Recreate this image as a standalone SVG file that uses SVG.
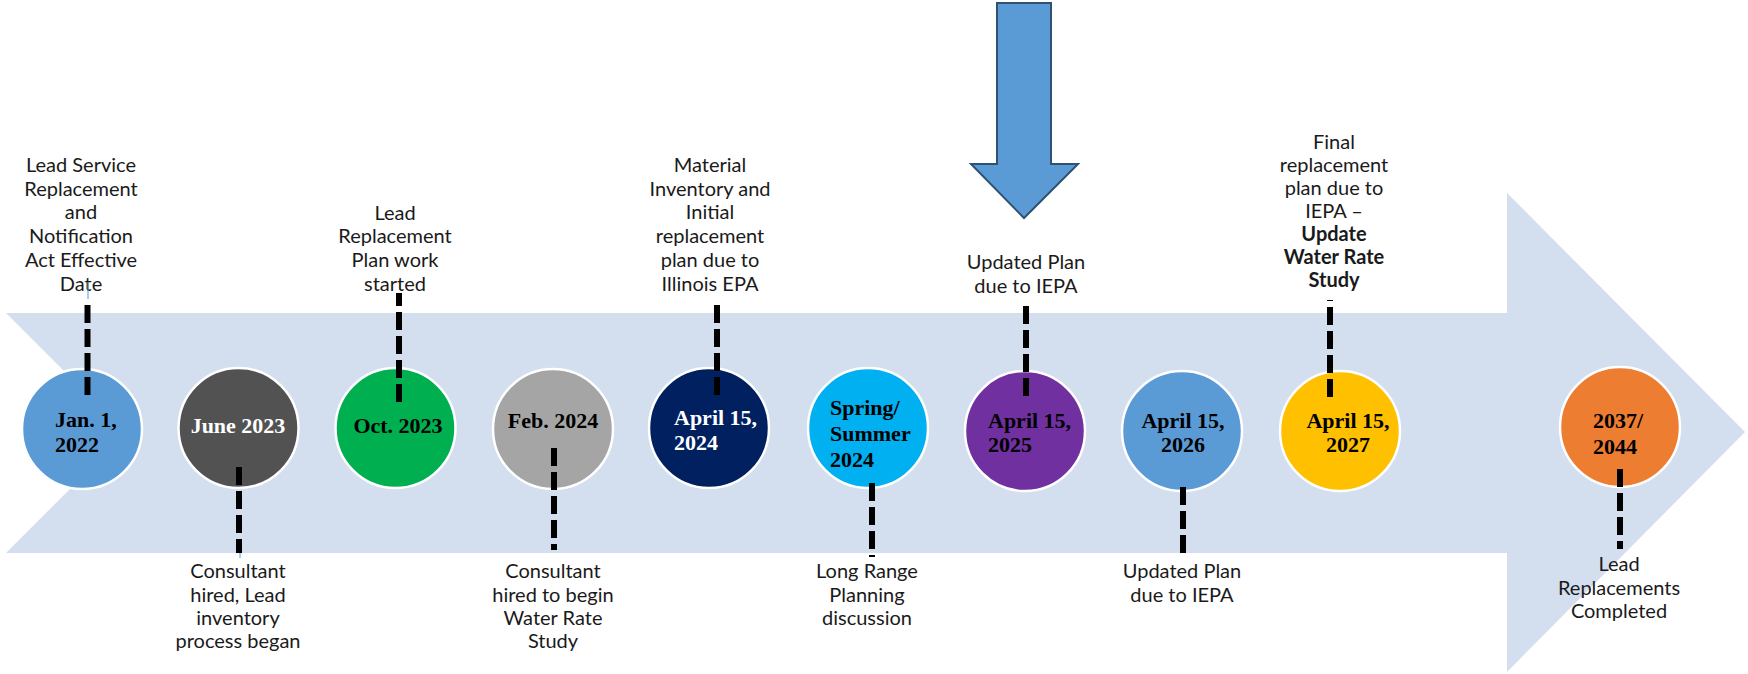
<svg xmlns="http://www.w3.org/2000/svg" width="1748" height="674" viewBox="0 0 1748 674">
<style>
.lbl{font-family:Lato,"Open Sans","Liberation Sans",sans-serif;font-size:20px;fill:#1a1a1a;text-anchor:middle}
.b{font-weight:bold}
.dt{font-family:"Liberation Serif","DejaVu Serif",serif;font-size:22px;font-weight:bold}
.c{text-anchor:middle}
.node circle{stroke:#ffffff;stroke-width:2.5}
.dash{stroke:#000;stroke-width:6;stroke-dasharray:18 6;fill:none}
.thin{stroke:#5B9BD5;stroke-width:1;fill:none}
</style>
<rect width="1748" height="674" fill="#ffffff"/>
<g id="band">
<polygon points="6,313 1507,313 1507,193 1745,432 1507,672 1507,553 6,553 126,433" fill="#D3DEEF"/>
</g>
<g id="down-arrow">
<polygon points="997,3 1051,3 1051,164 1078,164 1024,218 971,164 997,164" fill="#5B9BD5" stroke="#2F5273" stroke-width="2"/>
</g>
<g id="node-jan2022" class="node">
<circle cx="82" cy="429" r="60" fill="#5B9BD5"/>
<text class="dt" fill="#000"><tspan x="55" y="427">Jan. 1,</tspan><tspan x="55" y="452">2022</tspan></text>
<text class="lbl"><tspan x="81" y="172">Lead Service</tspan><tspan x="81" y="196">Replacement</tspan><tspan x="81" y="219">and</tspan><tspan x="81" y="243">Notification</tspan><tspan x="81" y="267">Act Effective</tspan><tspan x="81" y="291">Date</tspan></text>
</g>
<g id="node-jun2023" class="node">
<circle cx="238.5" cy="428" r="60" fill="#525252"/>
<text class="dt c" fill="#fff" x="238" y="433">June 2023</text>
<text class="lbl"><tspan x="238" y="578">Consultant</tspan><tspan x="238" y="602">hired, Lead</tspan><tspan x="238" y="625">inventory</tspan><tspan x="238" y="648">process began</tspan></text>
</g>
<g id="node-oct2023" class="node">
<circle cx="395.5" cy="428" r="60" fill="#00B050"/>
<text class="dt c" fill="#000" x="398" y="433">Oct. 2023</text>
<text class="lbl"><tspan x="395" y="220">Lead</tspan><tspan x="395" y="243">Replacement</tspan><tspan x="395" y="267">Plan work</tspan><tspan x="395" y="291">started</tspan></text>
</g>
<g id="node-feb2024" class="node">
<circle cx="553" cy="429" r="60" fill="#A5A5A5"/>
<text class="dt c" fill="#000" x="553" y="428">Feb. 2024</text>
<text class="lbl"><tspan x="553" y="578">Consultant</tspan><tspan x="553" y="602">hired to begin</tspan><tspan x="553" y="625">Water Rate</tspan><tspan x="553" y="648">Study</tspan></text>
</g>
<g id="node-apr2024" class="node">
<circle cx="709" cy="428" r="60" fill="#002060"/>
<text class="dt" fill="#fff"><tspan x="674" y="425">April 15,</tspan><tspan x="674" y="450">2024</tspan></text>
<text class="lbl"><tspan x="710" y="172">Material</tspan><tspan x="710" y="196">Inventory and</tspan><tspan x="710" y="219">Initial</tspan><tspan x="710" y="243">replacement</tspan><tspan x="710" y="267">plan due to</tspan><tspan x="710" y="291">Illinois EPA</tspan></text>
</g>
<g id="node-spring2024" class="node">
<circle cx="868" cy="428" r="60" fill="#00B0F0"/>
<text class="dt" fill="#000"><tspan x="830" y="415">Spring/</tspan><tspan x="830" y="441">Summer</tspan><tspan x="830" y="467">2024</tspan></text>
<text class="lbl"><tspan x="867" y="578">Long Range</tspan><tspan x="867" y="602">Planning</tspan><tspan x="867" y="625">discussion</tspan></text>
</g>
<g id="node-apr2025" class="node">
<circle cx="1025" cy="431" r="60" fill="#7030A0"/>
<text class="dt" fill="#000"><tspan x="988" y="428">April 15,</tspan><tspan x="988" y="452">2025</tspan></text>
<text class="lbl"><tspan x="1026" y="269">Updated Plan</tspan><tspan x="1026" y="293">due to IEPA</tspan></text>
</g>
<g id="node-apr2026" class="node">
<circle cx="1182" cy="431" r="60" fill="#5B9BD5"/>
<text class="dt c" fill="#000"><tspan x="1183" y="428">April 15,</tspan><tspan x="1183" y="452">2026</tspan></text>
<text class="lbl"><tspan x="1182" y="578">Updated Plan</tspan><tspan x="1182" y="602">due to IEPA</tspan></text>
</g>
<g id="node-apr2027" class="node">
<circle cx="1340" cy="431" r="60" fill="#FFC000"/>
<text class="dt c" fill="#000"><tspan x="1348" y="428">April 15,</tspan><tspan x="1348" y="452">2027</tspan></text>
<text class="lbl"><tspan x="1334" y="149">Final</tspan><tspan x="1334" y="172">replacement</tspan><tspan x="1334" y="195">plan due to</tspan><tspan x="1334" y="218">IEPA –</tspan><tspan class="b" x="1334" y="241">Update</tspan><tspan class="b" x="1334" y="264">Water Rate</tspan><tspan class="b" x="1334" y="287">Study</tspan></text>
</g>
<g id="node-2037" class="node">
<circle cx="1620" cy="427" r="60" fill="#ED7D31"/>
<text class="dt" fill="#000"><tspan x="1593" y="428">2037/</tspan><tspan x="1593" y="454">2044</tspan></text>
<text class="lbl"><tspan x="1619" y="571">Lead</tspan><tspan x="1619" y="595">Replacements</tspan><tspan x="1619" y="618">Completed</tspan></text>
</g>
<g id="connectors">
<line class="thin" x1="88" y1="282" x2="88" y2="299"/>
<line class="thin" x1="240" y1="550" x2="240" y2="558"/>
<line class="dash" x1="87.5" y1="395" x2="87.5" y2="299"/>
<line class="dash" x1="399" y1="402" x2="399" y2="293"/>
<line class="dash" x1="717" y1="395" x2="717" y2="299"/>
<line class="dash" x1="1026" y1="396" x2="1026" y2="300"/>
<line class="dash" x1="1330" y1="397" x2="1330" y2="300"/>
<line class="dash" x1="239" y1="467" x2="239" y2="553"/>
<line class="dash" x1="554" y1="448" x2="554" y2="550"/>
<line class="dash" x1="872" y1="483" x2="872" y2="557"/>
<line class="dash" x1="1183" y1="487" x2="1183" y2="557"/>
<line class="dash" x1="1620" y1="469" x2="1620" y2="549"/>
</g>
</svg>
